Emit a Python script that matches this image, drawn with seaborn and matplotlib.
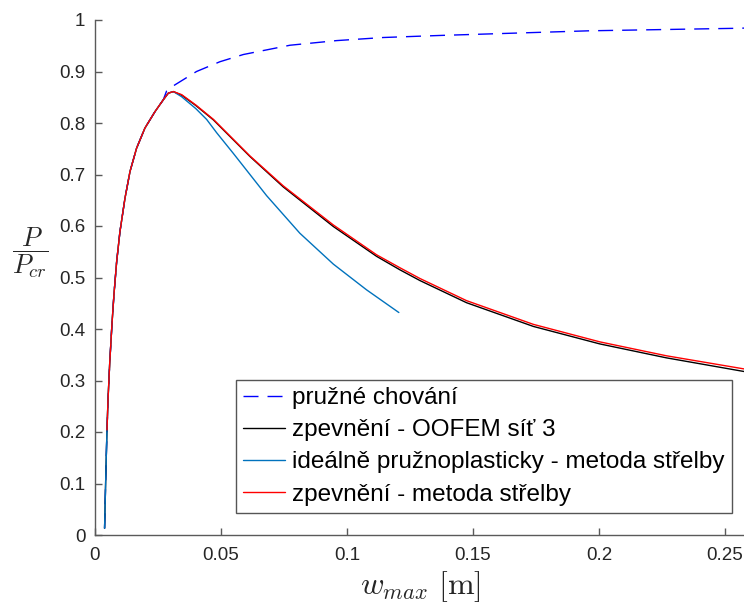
import matplotlib
matplotlib.use("Agg")
import matplotlib.pyplot as plt
import seaborn as sns

# Shared loading branch (w_max [m], P/P_cr)
rise_w = [0.0038, 0.00437, 0.00476, 0.00516, 0.00583, 0.00675, 0.00754, 0.0086,
          0.0099, 0.0119, 0.0139, 0.0165, 0.0198, 0.0238, 0.0271]
rise_p = [0.013, 0.133, 0.204, 0.262, 0.333, 0.411, 0.468, 0.531,
          0.589, 0.654, 0.706, 0.751, 0.790, 0.822, 0.845]

# Elastic behaviour beyond the shared branch
elastic_w = [0.0284, 0.0317, 0.0403, 0.0496, 0.0589, 0.0774, 0.0959, 0.1144,
             0.137, 0.196, 0.256, 0.262]
elastic_p = [0.862, 0.874, 0.900, 0.919, 0.933, 0.951, 0.960, 0.966,
             0.970, 0.979, 0.984, 0.985]

# Peak of the plastic curves
peak_w = [0.0291, 0.0311]
peak_p = [0.858, 0.861]

# Hardening, OOFEM mesh 3
oofem_w = [0.0344, 0.0400, 0.0470, 0.0615, 0.0747, 0.0946, 0.1118, 0.1210,
           0.1290, 0.1475, 0.1740, 0.2004, 0.2268, 0.2570, 0.2620]
oofem_p = [0.854, 0.834, 0.806, 0.735, 0.676, 0.599, 0.541, 0.515,
           0.494, 0.451, 0.405, 0.371, 0.344, 0.318, 0.314]

# Ideal elastoplastic, shooting method
ideal_w = [0.0344, 0.0400, 0.0443, 0.0483, 0.0549, 0.0681, 0.0813, 0.0946,
           0.1078, 0.1206]
ideal_p = [0.851, 0.828, 0.807, 0.781, 0.741, 0.659, 0.586, 0.526,
           0.476, 0.432]

# Hardening, shooting method
shoot_w = [0.0344, 0.0400, 0.0470, 0.0615, 0.0747, 0.0946, 0.1118, 0.1210,
           0.1290, 0.1475, 0.1740, 0.2004, 0.2268, 0.2570, 0.2620]
shoot_p = [0.855, 0.835, 0.807, 0.736, 0.678, 0.602, 0.544, 0.519,
           0.498, 0.455, 0.409, 0.375, 0.348, 0.323, 0.319]

labels = ["pružné chování",
          "zpevnění - OOFEM síť 3",
          "ideálně pružnoplasticky - metoda střelby",
          "zpevnění - metoda střelby"]

x_ticks = [0, 0.05, 0.1, 0.15, 0.2, 0.25]
x_ticklabels = ["0", "0.05", "0.1", "0.15", "0.2", "0.25"]
y_ticks = [0, 0.1, 0.2, 0.3, 0.4, 0.5, 0.6, 0.7, 0.8, 0.9, 1]
y_ticklabels = ["0", "0.1", "0.2", "0.3", "0.4", "0.5", "0.6", "0.7", "0.8", "0.9", "1"]

sns.set_theme(style="ticks")
plt.rcParams["font.family"] = ["Liberation Sans", "DejaVu Sans"]
plt.rcParams["mathtext.fontset"] = "cm"

fig = plt.figure(figsize=(7.44, 6.04), dpi=100)
ax = fig.add_axes([95 / 744, 69 / 604, 649 / 744, 515 / 604])

lw = 1.0
sns.lineplot(x=rise_w + elastic_w, y=rise_p + elastic_p, ax=ax, color=(0, 0, 1),
             lw=lw, linestyle=(0, (10.8, 6.5)), sort=False, estimator=None,
             label=labels[0])
sns.lineplot(x=rise_w + peak_w + oofem_w, y=rise_p + peak_p + oofem_p, ax=ax,
             color="black", lw=lw, sort=False, estimator=None, label=labels[1])
sns.lineplot(x=rise_w + peak_w + ideal_w, y=rise_p + peak_p + ideal_p, ax=ax,
             color=(0, 0.447, 0.741), lw=lw, sort=False, estimator=None,
             label=labels[2])
sns.lineplot(x=rise_w[2:] + peak_w + shoot_w, y=rise_p[2:] + peak_p + shoot_p,
             ax=ax, color="red", lw=lw, sort=False, estimator=None,
             label=labels[3])

ax.set_xlim(0, 0.2576)
ax.set_ylim(0, 1)
ax.set_xticks(x_ticks)
ax.set_xticklabels(x_ticklabels)
ax.set_yticks(y_ticks)
ax.set_yticklabels(y_ticklabels)

axis_color = "#5a5a5a"
for side in ("top", "right"):
    ax.spines[side].set_visible(False)
for side in ("left", "bottom"):
    ax.spines[side].set_color(axis_color)
    ax.spines[side].set_linewidth(1.0)
ax.tick_params(axis="both", direction="in", length=5, width=1.0,
               color=axis_color, labelsize=13.5, labelcolor="#262626")
ax.tick_params(axis="x", pad=9)
ax.tick_params(axis="y", pad=7)

ax.set_xlabel(r"$w_{max}\ [\mathrm{m}]$", fontsize=23, color="#262626")
ax.xaxis.set_label_coords(0.502, -0.066)
ax.set_ylabel(r"$\dfrac{P}{P_{cr}}$", fontsize=19, rotation=0,
              color="#262626", ha="center", va="center")
ax.yaxis.set_label_coords(-0.100, 0.548)

leg = ax.legend(loc="lower right", bbox_to_anchor=(0.981, 0.0427),
                borderaxespad=0, fontsize=17.5, frameon=True, fancybox=False,
                handlelength=1.73, handletextpad=0.28, labelspacing=0.42,
                borderpad=0.3)
leg.get_frame().set_edgecolor("#555555")
leg.get_frame().set_linewidth(1.0)
leg.get_frame().set_facecolor("white")
leg.get_frame().set_alpha(1)
for t in leg.get_texts():
    t.set_color("black")

fig.savefig("out.png", dpi=100)
